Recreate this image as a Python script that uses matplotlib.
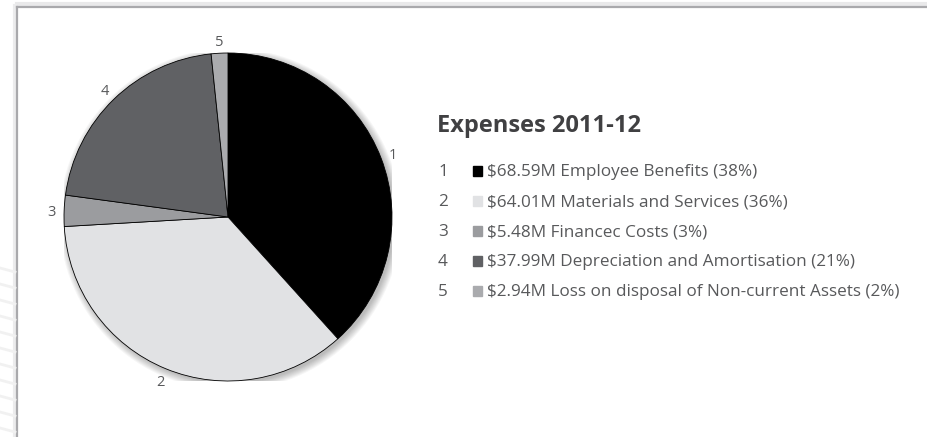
import numpy as np
import matplotlib.pyplot as plt
from matplotlib.lines import Line2D
from matplotlib.patches import Circle

W, H, DPI = 928, 437, 100

# expenses breakdown, $M
labels = ["1", "2", "3", "4", "5"]
values = [68.59, 64.01, 5.48, 37.99, 2.94]
percents = [38, 36, 3, 21, 2]
names = [
    "Employee Benefits",
    "Materials and Services",
    "Financec Costs",
    "Depreciation and Amortisation",
    "Loss on disposal of Non-current Assets",
]
colors = ["#000000", "#e1e2e4", "#9b9c9f", "#606164", "#aaabae"]
title = "Expenses 2011-12"

FONT = ["Open Sans", "DejaVu Sans"]
TEXT_COLOR = "#58595b"


def px(x, y):
    """pixel position (from top-left) -> figure fraction"""
    return x / W, 1 - y / H


def draw_frame(fig):
    frame = "#a9a9ac"
    # soft outer glow
    fig.add_artist(Line2D([17 / W, 1], [1 - 4 / H] * 2, color="#e9e9ea", lw=3, transform=fig.transFigure))
    fig.add_artist(Line2D([15 / W] * 2, [0, 1 - 6 / H], color="#ececed", lw=3, transform=fig.transFigure))
    fig.add_artist(Line2D([17 / W, 1], [1 - 6.5 / H] * 2, color=frame, lw=1.6, transform=fig.transFigure))
    fig.add_artist(Line2D([17.5 / W] * 2, [0, 1 - 6.5 / H], color=frame, lw=1.6, transform=fig.transFigure))
    # faint background stripes in the corner
    for y0 in np.arange(268, 437, 16):
        fig.add_artist(Line2D([0, 15 / W], [1 - y0 / H, 1 - (y0 + 4) / H],
                              color="#f1f1f1", lw=2, transform=fig.transFigure))


def draw_pie(fig, cx=228, cy=217, r=164):
    ax = fig.add_axes([(cx - r) / W, (H - cy - r) / H, 2 * r / W, 2 * r / H])

    # drop shadow, mostly to the lower right
    for i in range(8):
        ax.add_patch(Circle((0.014, -0.014), 1.0 + i * 0.006, color="black",
                            alpha=0.035, lw=0, zorder=0))

    wedges, texts = ax.pie(values, labels=labels, colors=colors, startangle=90,
                           counterclock=False, radius=1.0, labeldistance=1.08,
                           wedgeprops=dict(edgecolor="black", linewidth=0.6),
                           textprops=dict(color=TEXT_COLOR, fontsize=10.5, family=FONT))
    # pie() resets the limits, so pin them after
    ax.set_xlim(-1, 1)
    ax.set_ylim(-1, 1)
    ax.set_aspect("equal")
    ax.axis("off")
    for w in wedges:
        w.set_zorder(2)
        w.set_clip_on(False)
    for t in texts:
        t.set_ha("center")
        t.set_va("center_baseline")
        t.set_clip_on(False)


def draw_legend(fig):
    fig.text(*px(437, 132), title, fontsize=17, fontweight="bold", color="#404042",
             family=FONT, va="baseline", ha="left")
    base_y = 176 + 30 * np.arange(len(labels))
    for lab, v, n, p, c, y in zip(labels, values, names, percents, colors, base_y):
        fig.text(*px(443, y), lab, fontsize=12.3, color=TEXT_COLOR, family=FONT,
                 va="baseline", ha="center")
        fig.add_artist(plt.Rectangle(px(473, y - 0.5), 9.5 / W, 9.5 / H, color=c,
                                     transform=fig.transFigure))
        fig.text(*px(487, y), f"${v:.2f}M {n} ({p}%)", fontsize=12.3, color=TEXT_COLOR,
                 family=FONT, va="baseline", ha="left")


if __name__ == "__main__":
    fig = plt.figure(figsize=(W / DPI, H / DPI), dpi=DPI)
    fig.patch.set_facecolor("white")
    draw_frame(fig)
    draw_pie(fig)
    draw_legend(fig)
    fig.savefig("out.png", dpi=DPI)
